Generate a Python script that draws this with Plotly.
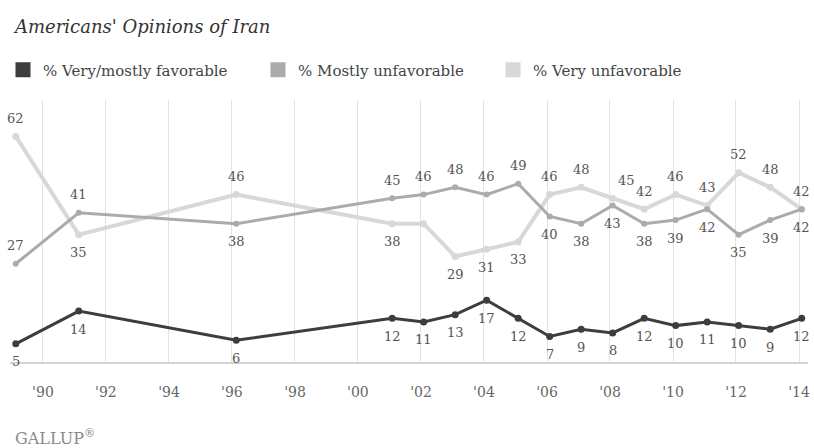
import plotly.graph_objects as go

# ---------------- data ----------------
dates = ["1989-02-20", "1991-02-20", "1996-02-20", "2001-02-01", "2002-02-01",
         "2003-02-01", "2004-02-01", "2005-02-01", "2006-02-01", "2007-02-01",
         "2008-02-01", "2009-02-01", "2010-02-01", "2011-02-01", "2012-02-01",
         "2013-02-01", "2014-02-01"]
favorable = [5, 14, 6, 12, 11, 13, 17, 12, 7, 9, 8, 12, 10, 11, 10, 9, 12]
mostly_unfavorable = [27, 41, 38, 45, 46, 48, 46, 49, 40, 38, 43, 38, 39, 42, 35, 39, 42]
very_unfavorable = [62, 35, 46, 38, 38, 29, 31, 33, 46, 48, 45, 42, 46, 43, 52, 48, 42]

tick_vals = ["1990-01-01", "1992-01-01", "1994-01-01", "1996-01-01", "1998-01-01",
             "2000-01-01", "2002-01-01", "2004-01-01", "2006-01-01", "2008-01-01",
             "2010-01-01", "2012-01-01", "2014-01-01"]
tick_text = ["'90", "'92", "'94", "'96", "'98", "'00", "'02", "'04", "'06", "'08",
             "'10", "'12", "'14"]

names = ["% Very/mostly favorable", "% Mostly unfavorable", "% Very unfavorable"]

# ---------------- label placement (style) ----------------
A, B = "above", "below"
fav_pos = [B] * 17
mostly_pos = [A, A, B, A, A, A, A, A, B, B, B, B, B, B, B, B, B]
very_pos = [A, B, A, B, None, B, B, B, A, A, A, A, A, A, A, A, A]
very_xshift = [0] * 17
very_xshift[10] = 14

FONT = "DejaVu Serif"
LABEL_COLOR = "#555555"
colors = {"fav": "#3d3d3d", "mostly": "#ababab", "very": "#d8d8d8"}

fig = go.Figure()

traces = [
    (names[2], very_unfavorable, colors["very"], 4, 7),
    (names[1], mostly_unfavorable, colors["mostly"], 3, 6),
    (names[0], favorable, colors["fav"], 3, 7),
]
for name, vals, col, w, ms in traces:
    fig.add_trace(go.Scatter(
        x=dates, y=vals, name=name, mode="lines+markers",
        line=dict(color=col, width=w), marker=dict(color=col, size=ms),
        showlegend=False, hoverinfo="skip"))

# legend entries (square swatches), each in its own legend
legend_names = ["legend", "legend2", "legend3"]
legend_cols = [colors["fav"], colors["mostly"], colors["very"]]
for nm, col, lg in zip(names, legend_cols, legend_names):
    fig.add_trace(go.Scatter(
        x=[None], y=[None], name=nm, mode="markers",
        marker=dict(symbol="square", size=15, color=col),
        showlegend=True, legend=lg))

annotations = []
def add_labels(vals, pos, xshift=None):
    for i, (d, v, p) in enumerate(zip(dates, vals, pos)):
        if p is None:
            continue
        annotations.append(dict(
            x=d, y=v, xref="x", yref="y", text=str(v), showarrow=False,
            font=dict(family=FONT, size=13, color=LABEL_COLOR),
            yshift=18 if p == A else -18,
            xshift=(xshift[i] if xshift else 0)))

add_labels(favorable, fav_pos)
add_labels(mostly_unfavorable, mostly_pos)
add_labels(very_unfavorable, very_pos, very_xshift)

annotations.append(dict(
    xref="paper", yref="paper", x=0, y=0, xanchor="left", yanchor="middle",
    xshift=3, yshift=-75, text="GALLUP<sup>®</sup>", showarrow=False,
    font=dict(family=FONT, size=16, color="#8a8a8a")))

legend_common = dict(xref="container", yref="container", orientation="h",
                     yanchor="middle", xanchor="left", bgcolor="rgba(0,0,0,0)",
                     font=dict(family=FONT, size=15, color="#444444"))

fig.update_layout(
    width=814, height=448,
    margin=dict(l=10, r=4, t=100, b=86),
    paper_bgcolor="white", plot_bgcolor="white",
    title=dict(text="Americans' Opinions of Iran", xref="container", yref="container",
               x=15 / 814, xanchor="left", y=1 - 27 / 448, yanchor="middle",
               font=dict(family=FONT, size=18, color="#333333", style="italic")),
    legend=dict(x=3 / 814, y=1 - 70 / 448, **legend_common),
    legend2=dict(x=258 / 814, y=1 - 70 / 448, **legend_common),
    legend3=dict(x=493 / 814, y=1 - 70 / 448, **legend_common),
    xaxis=dict(type="date", range=["1988-12-15", "2014-04-15"],
               tickvals=tick_vals, ticktext=tick_text,
               showgrid=True, gridcolor="#e2e2e2", gridwidth=1,
               showline=True, linecolor="#d4d4d4", linewidth=2,
               ticks="outside", ticklen=16, tickcolor="rgba(0,0,0,0)",
               tickfont=dict(family=FONT, size=14, color="#666666"),
               zeroline=False, fixedrange=True),
    yaxis=dict(range=[0, 72], showgrid=False, zeroline=False,
               showticklabels=False, fixedrange=True),
    annotations=annotations,
)

fig.write_html("out.html")
